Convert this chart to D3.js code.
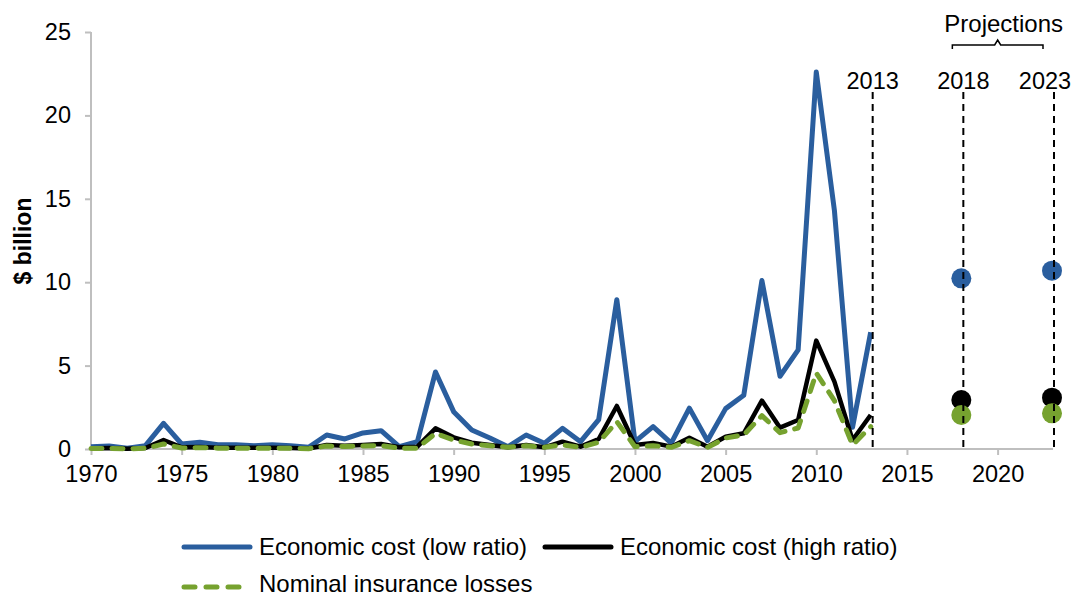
<!DOCTYPE html>
<html><head><meta charset="utf-8">
<script src="https://cdn.jsdelivr.net/npm/d3@7"></script>
<style>body{margin:0;background:#fff;} svg{display:block;font-family:"Liberation Sans",Arial,sans-serif;}</style>
</head><body><svg id="c" width="1073" height="598"></svg>
<script>
const years = d3.range(1970, 2014);
const lowRatio = [0.14,0.18,0.05,0.2,1.54,0.3,0.4,0.25,0.25,0.2,0.25,0.2,0.1,0.84,0.6,0.96,1.1,0.14,0.44,4.62,2.24,1.14,0.66,0.14,0.84,0.34,1.24,0.44,1.76,8.95,0.44,1.34,0.35,2.45,0.5,2.42,3.22,10.1,4.36,5.94,22.6,14.3,1.3,7.0];
const highRatio = [0.05,0.06,0.02,0.06,0.54,0.1,0.12,0.08,0.08,0.07,0.08,0.06,0.03,0.24,0.2,0.24,0.3,0.1,0.14,1.24,0.7,0.38,0.24,0.1,0.24,0.1,0.44,0.14,0.6,2.58,0.24,0.36,0.14,0.68,0.14,0.74,0.94,2.9,1.28,1.74,6.5,4.04,0.54,2.04];
const insurance = [0.03,0.04,0.01,0.04,0.3,0.06,0.08,0.05,0.05,0.04,0.05,0.04,0.02,0.18,0.15,0.18,0.2,0.05,0.05,0.94,0.54,0.3,0.2,0.1,0.2,0.1,0.25,0.1,0.4,1.64,0.14,0.2,0.1,0.5,0.1,0.66,0.84,2.0,0.98,1.26,4.55,2.9,0.24,1.34];
const projYears = [2018, 2023];
const projLow = [10.23, 10.69];
const projHigh = [2.94, 3.08];
const projIns = [2.04, 2.14];
const markerYears = [2013, 2018, 2023];
const xTicks = [1970,1975,1980,1985,1990,1995,2000,2005,2010,2015,2020];
const yTicks = [0,5,10,15,20,25];
const seriesNames = ["Economic cost (low ratio)", "Economic cost (high ratio)", "Nominal insurance losses"];

const BLUE = "#2a5e9e", BLACK = "#000", GREEN = "#76a22f", AXIS = "#bfbfbf";
const FS = "23.5px";
const svg = d3.select("#c");
const x = d3.scaleLinear().domain([1970, 2023]).range([91, 1052]);
const y = d3.scaleLinear().domain([0, 25]).range([449, 32]);

// axes
const yAx = svg.append("g").attr("transform", "translate(91,0)")
  .call(d3.axisLeft(y).tickValues(yTicks).tickSize(6).tickPadding(14).tickFormat(d3.format("d")));
const xAx = svg.append("g").attr("transform", "translate(0,449)")
  .call(d3.axisBottom(x).tickValues(xTicks).tickSize(6).tickPadding(10).tickFormat(d3.format("d")));
[yAx, xAx].forEach(g => {
  g.select(".domain").attr("stroke", AXIS).attr("stroke-width", 2);
  g.selectAll(".tick line").attr("stroke", AXIS).attr("stroke-width", 2);
  g.selectAll(".tick text").attr("fill", "#000").style("font-size", FS).style("font-family", "Liberation Sans, Arial, sans-serif");
});
xAx.select(".domain").attr("d", `M${x(1970)},0H${x(2023)+1}`);
yAx.select(".domain").attr("d", `M0,${y(25)}V${y(0)}`);

svg.append("text").attr("transform", "translate(31,241) rotate(-90)")
  .attr("text-anchor", "middle").style("font-size", "23px").style("font-weight", "bold").text("$ billion");

const line = d3.line().x((d, i) => x(years[i])).y(d => y(d));
svg.append("path").datum(lowRatio).attr("d", line).attr("fill", "none").attr("stroke", BLUE).attr("stroke-width", 5).attr("stroke-linejoin", "round");
svg.append("path").datum(highRatio).attr("d", line).attr("fill", "none").attr("stroke", BLACK).attr("stroke-width", 4.5).attr("stroke-linejoin", "round");
svg.append("path").datum(insurance).attr("d", line).attr("fill", "none").attr("stroke", GREEN).attr("stroke-width", 5).attr("stroke-dasharray", "11,10").attr("stroke-linecap", "round").attr("stroke-linejoin", "round");

// projection dots
const dotData = [];
projYears.forEach((yr, i) => {
  dotData.push({yr, v: projLow[i], c: BLUE});
  dotData.push({yr, v: projHigh[i], c: BLACK});
  dotData.push({yr, v: projIns[i], c: GREEN});
});
svg.selectAll("circle.p").data(dotData).enter().append("circle")
  .attr("cx", d => x(d.yr)).attr("cy", d => y(d.v)).attr("r", 10).attr("fill", d => d.c);

// vertical dashed markers
svg.selectAll("line.m").data(markerYears).enter().append("line")
  .attr("x1", d => x(d) + 2).attr("x2", d => x(d) + 2).attr("y1", 92).attr("y2", y(0))
  .attr("stroke", "#000").attr("stroke-width", 2).attr("stroke-dasharray", "7,5");
svg.selectAll("text.m").data(markerYears).enter().append("text")
  .attr("x", d => d === 2023 ? x(d) - 7 : x(d) + 2).attr("y", 89).attr("text-anchor", "middle")
  .style("font-size", FS).text(d => d);

// projections bracket
const bx1 = x(2018) - 9, bx2 = x(2023) - 9, bm = (bx1 + bx2) / 2;
svg.append("path").attr("d", `M${bx1},49V45H${bm-3}L${bm},40L${bm+3},45H${bx2}V49`)
  .attr("fill", "none").attr("stroke", "#000").attr("stroke-width", 1.5);
svg.append("text").attr("x", bm + 6).attr("y", 32).attr("text-anchor", "middle").style("font-size", "24px").text("Projections");

// legend
const leg = [
  {name: seriesNames[0], c: BLUE, dash: null, x: 182, y: 547, ty: 555},
  {name: seriesNames[1], c: BLACK, dash: null, x: 543, y: 547, ty: 555},
  {name: seriesNames[2], c: GREEN, dash: "11,11", x: 182, y: 587, ty: 592}
];
leg.forEach(l => {
  svg.append("line").attr("x1", l.x + 2).attr("x2", l.x + 68).attr("y1", l.y).attr("y2", l.y)
    .attr("stroke", l.c).attr("stroke-width", 5).attr("stroke-linecap", "round")
    .attr("stroke-dasharray", l.dash);
  svg.append("text").attr("x", l.x + 77).attr("y", l.ty).style("font-size", "24px").text(l.name);
});
</script></body></html>
